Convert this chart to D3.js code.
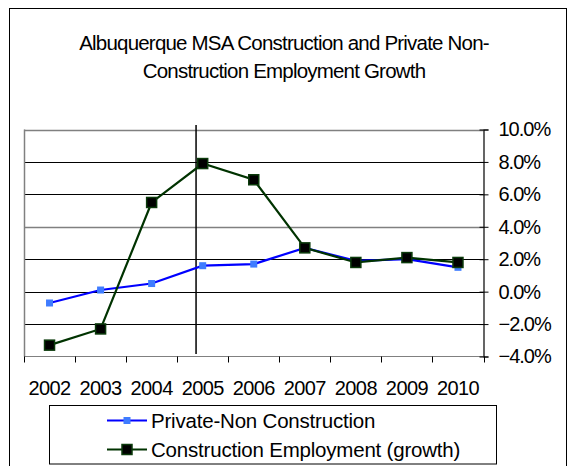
<!DOCTYPE html>
<html>
<head>
<meta charset="utf-8">
<script src="https://cdn.jsdelivr.net/npm/d3@7"></script>
<style>
  html, body { margin: 0; padding: 0; background: #fff; }
  svg { display: block; font-family: "Liberation Sans", Arial, sans-serif; }
</style>
</head>
<body>
<svg id="chart" width="568" height="466"></svg>
<script>
// Annual employment growth, Albuquerque MSA (percent)
const years = ["2002", "2003", "2004", "2005", "2006", "2007", "2008", "2009", "2010"];
const privateNonConstruction = [-0.7, 0.1, 0.5, 1.6, 1.7, 2.7, 1.9, 2.0, 1.5];
const constructionGrowth = [-3.3, -2.3, 5.5, 7.9, 6.9, 2.7, 1.8, 2.1, 1.8];
const yTicks = [-4, -2, 0, 2, 4, 6, 8, 10];
const titleLines = ["Albuquerque MSA Construction and Private Non-", "Construction Employment Growth"];
const seriesNames = ["Private-Non Construction", "Construction Employment (growth)"];

const svg = d3.select("#chart");

const plot = { left: 24, right: 483.5, top: 129.5, bottom: 356.5 };

const x = d3.scaleBand().domain(years).range([plot.left, plot.right]).padding(0);
const y = d3.scaleLinear().domain([-4, 10]).range([plot.bottom, plot.top]);
const cx = d => x(d) + x.bandwidth() / 2;

// outer chart frame
svg.append("rect")
  .attr("x", 9.5).attr("y", 8.5)
  .attr("width", 557).attr("height", 470)
  .attr("fill", "none").attr("stroke", "#000").attr("stroke-width", 1);

// title
const title = svg.append("text")
  .attr("x", 284).attr("y", 50)
  .attr("text-anchor", "middle")
  .attr("font-size", 20.5)
  .attr("letter-spacing", -0.8)
  .attr("fill", "#000");
titleLines.forEach((t, i) => {
  title.append("tspan").attr("x", 284).attr("dy", i === 0 ? 0 : 27.5).text(t);
});

// horizontal gridlines
svg.append("g").selectAll("line")
  .data(yTicks.filter(v => v !== -4))
  .join("line")
  .attr("x1", plot.left).attr("x2", plot.right)
  .attr("y1", d => Math.round(y(d)) + 0.5).attr("y2", d => Math.round(y(d)) + 0.5)
  .attr("stroke", d => (d === 4 || d === 10) ? "#808080" : "#000")
  .attr("stroke-width", d => (d === 4 || d === 10) ? 1.6 : 1);

// left edge of the plot
svg.append("line")
  .attr("x1", plot.left + 0.5).attr("x2", plot.left + 0.5)
  .attr("y1", plot.top).attr("y2", plot.bottom)
  .attr("stroke", "#808080").attr("stroke-width", 1.5);

// bottom category axis with ticks between categories
svg.append("line")
  .attr("x1", plot.left).attr("x2", plot.right)
  .attr("y1", plot.bottom).attr("y2", plot.bottom)
  .attr("stroke", "#808080").attr("stroke-width", 1.2);
const boundaries = years.map(d => x(d)).concat([plot.right]);
svg.append("g").selectAll("line")
  .data(boundaries)
  .join("line")
  .attr("x1", d => Math.round(d) + 0.5).attr("x2", d => Math.round(d) + 0.5)
  .attr("y1", plot.bottom).attr("y2", plot.bottom + 6)
  .attr("stroke", "#000").attr("stroke-width", 1);

svg.append("g").selectAll("text")
  .data(years)
  .join("text")
  .attr("x", d => cx(d))
  .attr("y", 395)
  .attr("text-anchor", "middle")
  .attr("font-size", 20)
  .attr("letter-spacing", -0.6)
  .attr("fill", "#000")
  .text(d => d);

// right value axis
const yAxis = d3.axisRight(y)
  .tickValues(yTicks)
  .tickSize(5)
  .tickPadding(10)
  .tickFormat(d => d3.format(".1f")(d) + "%");
const ay = svg.append("g")
  .attr("transform", `translate(${plot.right},0)`)
  .call(yAxis);
ay.select(".domain").attr("stroke", "#000").attr("stroke-width", 1.2);
ay.selectAll(".tick line").attr("x1", -4).attr("stroke", "#000");
ay.selectAll(".tick text")
  .attr("font-family", "Liberation Sans, Arial, sans-serif")
  .attr("font-size", 20)
  .attr("letter-spacing", -1)
  .attr("fill", "#000");

// vertical reference line near 2005
const refX = x(years[3]) + x.bandwidth() * 0.37;
svg.append("line")
  .attr("x1", refX).attr("x2", refX)
  .attr("y1", plot.top - 4.5).attr("y2", plot.bottom - 2.5)
  .attr("stroke", "#000").attr("stroke-width", 1.5);

const line = d3.line().x((d, i) => cx(years[i])).y(d => y(d));

// private non-construction series
svg.append("path")
  .datum(privateNonConstruction)
  .attr("d", line)
  .attr("fill", "none").attr("stroke", "#0000ff").attr("stroke-width", 2.2);

// construction series
svg.append("path")
  .datum(constructionGrowth)
  .attr("d", line)
  .attr("fill", "none").attr("stroke", "#003300").attr("stroke-width", 2.2);

svg.append("g").selectAll("rect")
  .data(privateNonConstruction)
  .join("rect")
  .attr("x", (d, i) => cx(years[i]) - 3.5)
  .attr("y", d => y(d) - 3.5)
  .attr("width", 7).attr("height", 7)
  .attr("fill", "#3f7cff");

svg.append("g").selectAll("rect")
  .data(constructionGrowth)
  .join("rect")
  .attr("x", (d, i) => cx(years[i]) - 5)
  .attr("y", d => y(d) - 5)
  .attr("width", 10).attr("height", 10)
  .attr("fill", "#000").attr("stroke", "#0b3a0b").attr("stroke-width", 1.5);

// legend
const legend = svg.append("g");
legend.append("rect")
  .attr("x", 49.5).attr("y", 405.5)
  .attr("width", 447).attr("height", 58.5)
  .attr("fill", "#fff").attr("stroke", "#000").attr("stroke-width", 1);

const legendRows = [
  { name: seriesNames[0], stroke: "#0000ff", fill: "#3f7cff", size: 7, border: "none" },
  { name: seriesNames[1], stroke: "#003300", fill: "#000", size: 10, border: "#0b3a0b" }
];
legendRows.forEach((r, i) => {
  const ry = 420.5 + i * 29;
  legend.append("line")
    .attr("x1", 107).attr("x2", 147)
    .attr("y1", ry).attr("y2", ry)
    .attr("stroke", r.stroke).attr("stroke-width", 2.2);
  legend.append("rect")
    .attr("x", 127 - r.size / 2).attr("y", ry - r.size / 2)
    .attr("width", r.size).attr("height", r.size)
    .attr("fill", r.fill)
    .attr("stroke", r.border).attr("stroke-width", 1.5);
  legend.append("text")
    .attr("x", 151).attr("y", ry + 7)
    .attr("font-size", 20.5)
    .attr("letter-spacing", -0.2)
    .attr("fill", "#000")
    .text(r.name);
});
</script>
</body>
</html>
